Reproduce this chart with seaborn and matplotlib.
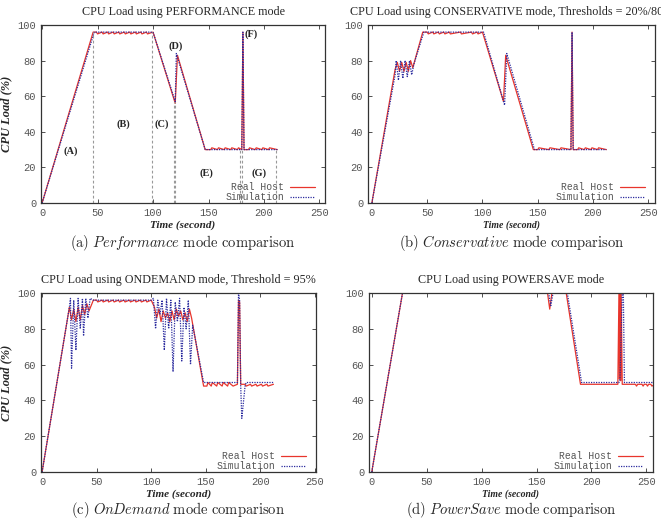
import pandas as pd
import seaborn as sns
import matplotlib.pyplot as plt

# (a) Performance mode
perf_real_t = [0, 46, 49, 50, 54, 55, 59, 60, 64, 65, 69, 70, 74, 75, 79, 80, 84, 85, 89, 90, 94, 95, 100,
               120, 122, 147, 152, 153, 158, 159, 164, 165, 170, 171, 176, 177, 180, 181, 182,
               186, 187, 192, 193, 198, 199, 204, 205, 212]
perf_real_v = [0, 96, 96, 95, 96, 95, 96, 95, 96, 95, 96, 95, 96, 95, 96, 95, 96, 95, 96, 95, 96, 95, 96,
               56, 83, 30, 30, 31, 30, 31, 30, 31, 30, 31, 30, 31, 30, 96, 30,
               30, 31, 30, 31, 30, 31, 30, 31, 30]
perf_sim_t = [0, 47, 100, 120, 121, 147, 180, 181, 182, 212]
perf_sim_v = [0, 96, 96, 57, 84, 30, 30, 96, 30, 30]
perf_marks_t = [46, 99, 119, 120, 178, 180, 211]
perf_marks_top = [96, 96, 57, 57, 30, 30, 30]
perf_labels = ["(A)", "(B)", "(C)", "(D)", "(E)", "(F)", "(G)"]
perf_labels_x = [26, 73, 108, 120, 148, 188, 196]
perf_labels_y = [29, 44, 44, 88, 17, 95, 17]

# (b) Conservative mode
cons_real_t = [0, 21, 23, 25, 27, 29, 31, 33, 35, 37, 46, 50, 51, 55, 56, 60, 61, 65, 66, 70, 71, 80, 81,
               90, 91, 95, 96, 100, 119, 121, 146, 150, 151, 160, 161, 170, 171, 180, 181, 182,
               186, 187, 192, 193, 198, 199, 204, 205, 212]
cons_real_v = [0, 75, 79, 74, 79, 74, 79, 74, 80, 76, 96, 96, 95, 96, 95, 96, 95, 96, 95, 96, 95, 96, 95,
               96, 95, 96, 95, 96, 57, 83, 30, 30, 31, 30, 31, 30, 31, 30, 96, 30,
               30, 31, 30, 31, 30, 31, 30, 31, 30]
cons_sim_t = [0, 21, 22, 24, 26, 28, 30, 32, 34, 36, 38, 47, 101, 120, 122, 147, 180, 181, 182, 212]
cons_sim_v = [0, 72, 80, 69, 80, 70, 80, 71, 80, 72, 78, 96, 96, 55, 84, 30, 30, 96, 30, 30]

# (c) OnDemand mode
ond_real_t = [0, 25, 27, 29, 31, 33, 35, 37, 39, 41, 43, 47, 50, 51, 55, 56, 60, 61, 65, 66, 70, 71,
              75, 76, 80, 81, 85, 86, 90, 91, 95, 96, 100,
              103, 105, 107, 109, 111, 113, 115, 117, 119, 121, 123, 125, 127, 129, 131, 133, 135, 137,
              148, 151, 152, 155, 156, 160, 161, 165, 166, 170, 171, 175, 179, 180, 181, 182,
              186, 187, 191, 192, 196, 197, 201, 202, 206, 207, 212]
ond_real_v = [0, 92, 85, 91, 84, 92, 85, 93, 88, 94, 90, 96, 96, 95, 96, 95, 96, 95, 96, 95, 96, 95,
              96, 95, 96, 95, 96, 95, 96, 95, 96, 95, 96,
              92, 86, 91, 84, 90, 86, 89, 84, 90, 85, 91, 87, 90, 85, 89, 84, 91, 86,
              48, 48, 50, 48, 50, 48, 50, 48, 50, 48, 50, 48, 49, 96, 95, 49,
              49, 48, 49, 48, 49, 48, 49, 48, 49, 48, 49]
ond_sim_t = [0, 25, 26, 27, 29, 31, 33, 35, 37, 38, 40, 42, 44, 47, 100, 102, 104, 106, 108, 110, 112,
             114, 116, 118, 120, 122, 124, 126, 128, 130, 132, 134, 136, 138, 148, 179, 180, 181,
             182, 183, 184, 186, 187, 212]
ond_sim_v = [0, 92, 97, 58, 96, 68, 97, 80, 97, 76, 97, 86, 97, 96, 96, 97, 80, 96, 88, 96, 68,
             97, 80, 96, 56, 95, 84, 97, 62, 92, 80, 96, 60, 82, 50, 50, 100, 96,
             48, 30, 36, 48, 50, 50]

# (d) PowerSave mode
pws_real_t = [0, 28, 160, 162, 164, 177, 190, 224, 225, 225.5, 226, 226.5, 227, 228,
              240, 241, 242, 246, 247, 248, 250, 251, 252, 254, 255, 258]
pws_real_v = [0, 100, 100, 91, 100, 100, 49, 49, 100, 52, 100, 51, 100, 49,
              49, 48, 49, 49, 48, 49, 49, 48, 49, 49, 48, 49]
pws_sim_t = [0, 28, 161, 163, 165, 178, 191, 225, 226, 228, 229, 230, 258]
pws_sim_v = [0, 100, 100, 93, 100, 100, 50, 50, 52, 100, 100, 50, 50]

titles = ["CPU Load using PERFORMANCE mode",
          "CPU Load using CONSERVATIVE mode, Thresholds = 20%/80%",
          "CPU Load using ONDEMAND mode, Threshold = 95%",
          "CPU Load using POWERSAVE mode"]
captions = [r"$\mathrm{(a)}\ \mathit{Performance}\ \mathrm{mode\ comparison}$",
            r"$\mathrm{(b)}\ \mathit{Conservative}\ \mathrm{mode\ comparison}$",
            r"$\mathrm{(c)}\ \mathit{OnDemand}\ \mathrm{mode\ comparison}$",
            r"$\mathrm{(d)}\ \mathit{PowerSave}\ \mathrm{mode\ comparison}$"]

sns.set_style("ticks")
plt.rcParams['font.family'] = ['Liberation Mono', 'DejaVu Sans']
plt.rcParams['mathtext.fontset'] = 'cm'

W, H = 661, 521
fig = plt.figure(figsize=(W / 100, H / 100), dpi=100)

# axes boxes in pixels: left, right, top, bottom
boxes = [(41, 325, 25, 203), (368, 655, 25, 203), (41, 316, 293, 472), (369, 653, 293, 472)]
xlims = [(-1, 255), (-3.5, 256), (-1, 251), (-2.5, 256)]
series = [(perf_real_t, perf_real_v, perf_sim_t, perf_sim_v),
          (cons_real_t, cons_real_v, cons_sim_t, cons_sim_v),
          (ond_real_t, ond_real_v, ond_sim_t, ond_sim_v),
          (pws_real_t, pws_real_v, pws_sim_t, pws_sim_v)]
palette = {"Real Host": "#e8352c", "Simulation": "#2a2a9e"}
dashes = {"Real Host": "", "Simulation": (1, 1)}

for i, (l, r, t, b) in enumerate(boxes):
    ax = fig.add_axes([l / W, (H - b) / H, (r - l) / W, (b - t) / H])
    rt, rv, st, sv = series[i]
    df = pd.concat([
        pd.DataFrame({"time": rt, "load": rv, "source": "Real Host"}),
        pd.DataFrame({"time": st, "load": sv, "source": "Simulation"}),
    ])
    sns.lineplot(data=df, x="time", y="load", hue="source", style="source",
                 palette=palette, dashes=dashes, sort=False, estimator=None,
                 linewidth=0.9, ax=ax)
    if i == 0:
        ax.vlines(perf_marks_t, 0, perf_marks_top, colors="#999999",
                  linestyles=(0, (2.5, 2)), linewidth=0.8)
        for lab, lx, ly in zip(perf_labels, perf_labels_x, perf_labels_y):
            ax.text(lx, ly, lab, ha="center", va="center", fontsize=7.5,
                    fontweight="bold", family="Liberation Serif")
    ax.set_xlim(*xlims[i])
    ax.set_ylim(0, 100)
    ax.set_xticks(range(0, 251, 50))
    ax.set_yticks(range(0, 101, 20))
    ax.tick_params(direction="in", top=True, right=True, length=3, width=0.6,
                   labelsize=7.5, labelcolor="#555555", color="#333333")
    for s in ax.spines.values():
        s.set_visible(True)
        s.set_linewidth(0.9)
        s.set_color("#333333")
    ax.set_title(titles[i], fontsize=8.7, family="Liberation Serif", pad=7)
    xl_size = 8 if i in (0, 2) else 7
    ax.set_xlabel("Time (second)", fontsize=xl_size, family="Liberation Serif",
                  fontstyle="italic", fontweight="bold", labelpad=2)
    if i in (0, 2):
        ax.set_ylabel("CPU Load (%)", fontsize=9, family="Liberation Serif",
                      fontstyle="italic", fontweight="bold", labelpad=4)
    else:
        ax.set_ylabel("")
    handles, labels = ax.get_legend_handles_labels()
    ax.legend(handles, labels, loc="lower right", bbox_to_anchor=(0.99, -0.035),
              frameon=False, markerfirst=False,
              prop={"family": "Liberation Mono", "size": 7}, labelcolor="#555555",
              handlelength=2.6, handletextpad=0.6, labelspacing=0.05,
              borderaxespad=0.3)
    cy = 243 if i < 2 else 510
    fig.text(((l + r) / 2) / W, 1 - cy / H, captions[i], ha="center", va="center",
             fontsize=10.5)

fig.savefig("out.png", dpi=100)
